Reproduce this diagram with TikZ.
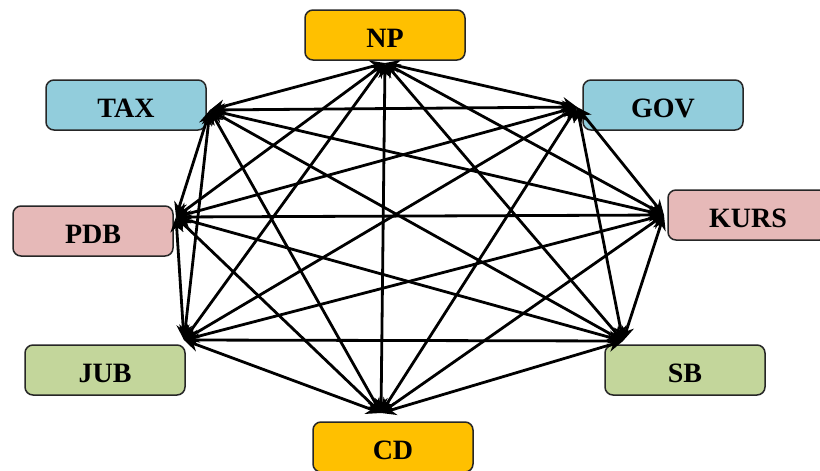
\documentclass[tikz,border=0pt]{standalone}
\usepackage{fontspec}
\setmainfont{Liberation Serif}
\usetikzlibrary{arrows.meta}
\definecolor{cOrange}{HTML}{FFC000}
\definecolor{cBlue}{HTML}{92CDDC}
\definecolor{cPink}{HTML}{E6B9B8}
\definecolor{cGreen}{HTML}{C3D69B}
\tikzset{
  box/.style={draw=black!85, line width=1.5pt, rounded corners=8pt,
    minimum width=160pt, minimum height=50pt, inner sep=0pt,
    text height=25pt, text depth=0pt,
    font=\fontsize{28}{30}\selectfont\bfseries},
  link/.style={line width=2.8pt, black,
    {Stealth[length=15pt,width=13pt]}-{Stealth[length=15pt,width=13pt]}}
}
\begin{document}
\begin{tikzpicture}[x=1pt,y=-1pt]
\useasboundingbox (0,0) rectangle (820,471);
\fill[white] (0,0) rectangle (820,471);

% boxes
\node[box, fill=cOrange] (np)   at (385,35)  {NP};
\node[box, fill=cBlue]   (tax)  at (126,105) {TAX};
\node[box, fill=cBlue]   (gov)  at (663,105) {GOV};
\node[box, fill=cPink]   (pdb)  at (93,231)  {PDB};
\node[box, fill=cPink]   (kurs) at (748,215) {KURS};
\node[box, fill=cGreen]  (jub)  at (105,370) {JUB};
\node[box, fill=cGreen]  (sb)   at (685,370) {SB};
\node[box, fill=cOrange] (cd)   at (393,447) {CD};

% meeting points of the connectors
\coordinate (pNP)   at (385,63);
\coordinate (pTAX)  at (210,110);
\coordinate (pGOV)  at (577,107);
\coordinate (pPDB)  at (176,217);
\coordinate (pKURS) at (664,215);
\coordinate (pJUB)  at (184,340);
\coordinate (pSB)   at (623,341);
\coordinate (pCD)   at (381,413);

% every pair linked both ways
\foreach \a/\b in {NP/TAX,NP/GOV,NP/PDB,NP/KURS,NP/JUB,NP/SB,NP/CD,
                   TAX/GOV,TAX/PDB,TAX/KURS,TAX/JUB,TAX/SB,TAX/CD,
                   GOV/PDB,GOV/KURS,GOV/JUB,GOV/SB,GOV/CD,
                   PDB/KURS,PDB/JUB,PDB/SB,PDB/CD,
                   KURS/JUB,KURS/SB,KURS/CD,
                   JUB/SB,JUB/CD,SB/CD}
  \draw[link] (p\a) -- (p\b);
\end{tikzpicture}
\end{document}
